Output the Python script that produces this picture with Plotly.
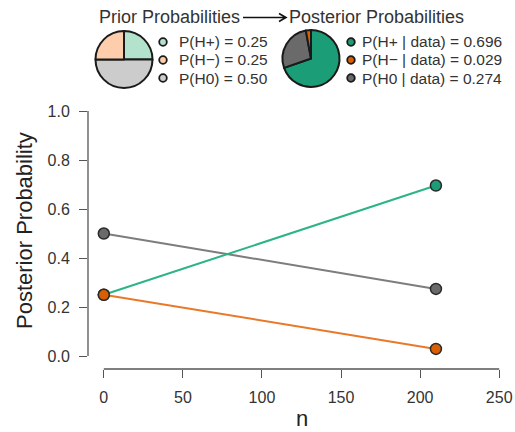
import plotly.graph_objects as go

# Sample sizes and probabilities
n_values = [0, 210]
hypotheses = ["H+", "H\u2212", "H0"]
prior = [0.25, 0.25, 0.50]
posterior = [0.696, 0.029, 0.274]

dark_cols = {"H+": "#1b9e77", "H\u2212": "#d95f02", "H0": "#6a6a6a"}
light_cols = {"H+": "#b3e2cd", "H\u2212": "#fdcdac", "H0": "#cccccc"}
line_cols = {"H+": "#2bb486", "H\u2212": "#e8792a", "H0": "#7d7d7d"}

W, H = 515, 432
FONT = "Liberation Sans, Arial, sans-serif"
TXT = "#333333"


def px(x):
    return x / W


def py(y):
    return (H - y) / H


fig = go.Figure()

# Probability trajectories: prior at n=0, posterior at final n
for h in ["H0", "H+", "H\u2212"]:
    i = hypotheses.index(h)
    fig.add_trace(go.Scatter(
        x=n_values, y=[prior[i], posterior[i]], mode="lines",
        line=dict(color=line_cols[h], width=2), showlegend=False, hoverinfo="skip"))
for h in ["H0", "H+", "H\u2212"]:
    i = hypotheses.index(h)
    fig.add_trace(go.Scatter(
        x=n_values, y=[prior[i], posterior[i]], mode="markers",
        marker=dict(color=dark_cols[h], size=11, line=dict(color="#2a2a2a", width=1.5)),
        showlegend=False))

# Pies: clockwise from 12 o'clock in order H+, H0, H-
pie_order = ["H+", "H0", "H\u2212"]


def add_pie(values, colors, cx, cy, r):
    fig.add_trace(go.Pie(
        values=[values[hypotheses.index(h)] for h in pie_order],
        labels=pie_order,
        marker=dict(colors=[colors[h] for h in pie_order], line=dict(color="#1a1a1a", width=2)),
        sort=False, direction="clockwise", rotation=0, textinfo="none",
        hoverinfo="label+value", showlegend=False,
        domain=dict(x=[px(cx - r), px(cx + r)], y=[py(cy + r), py(cy - r)])))


add_pie(prior, light_cols, 124, 59.5, 28.5)
add_pie(posterior, dark_cols, 311, 58.5, 28.5)

annotations = []
shapes = []


def text(x, y, s, size, anchor="left"):
    annotations.append(dict(
        x=px(x), y=py(y), xref="paper", yref="paper", text=s, showarrow=False,
        xanchor=anchor, yanchor="middle", font=dict(family=FONT, size=size, color=TXT)))


text(97, 17, "Prior Probabilities", 18)
text(287, 17, "Posterior Probabilities", 18)

# arrow between the two headings
ax0, ax1, ay = 243, 286, 17.5
shapes.append(dict(type="path", xref="paper", yref="paper",
                   path=f"M {px(ax0)},{py(ay)} L {px(ax1)},{py(ay)} "
                        f"M {px(ax1 - 7)},{py(ay - 4)} L {px(ax1)},{py(ay)} L {px(ax1 - 7)},{py(ay + 4)}",
                   line=dict(color="#111111", width=1.6)))

rows = [42, 60, 78]
prior_lbl = [f"P({h}) = {v:.2f}" for h, v in zip(hypotheses, prior)]
post_lbl = [f"P({h} | data) = {v:.3f}" for h, v in zip(hypotheses, posterior)]
for k, h in enumerate(hypotheses):
    for dotx, cols, lbl, tx in [(163, light_cols, prior_lbl[k], 177),
                                (351, dark_cols, post_lbl[k], 360)]:
        shapes.append(dict(type="circle", xref="paper", yref="paper",
                           xsizemode="pixel", ysizemode="pixel",
                           xanchor=px(dotx), yanchor=py(rows[k]),
                           x0=-3.8, x1=3.8, y0=-3.8, y1=3.8,
                           fillcolor=cols[h], line=dict(color="#1a1a1a", width=1.8)))
        text(tx, rows[k], lbl, 15.5)

# axis lines spanning only the tick range
shapes.append(dict(type="line", xref="paper", yref="y", x0=px(88), x1=px(88), y0=0, y1=1,
                   line=dict(color="#555555", width=1.3)))
shapes.append(dict(type="line", xref="x", yref="paper", x0=0, x1=250, y0=py(369), y1=py(369),
                   line=dict(color="#555555", width=1.3)))

# axis titles
annotations.append(dict(x=px(24), y=py(231), xref="paper", yref="paper", text="Posterior Probability",
                        showarrow=False, textangle=-90, xanchor="center", yanchor="middle",
                        font=dict(family=FONT, size=22, color="#222222")))
annotations.append(dict(x=px(302), y=py(418), xref="paper", yref="paper", text="n",
                        showarrow=False, xanchor="center", yanchor="middle",
                        font=dict(family=FONT, size=22, color="#222222")))

fig.update_layout(
    width=W, height=H, margin=dict(l=0, r=0, t=0, b=0),
    paper_bgcolor="white", plot_bgcolor="white",
    shapes=shapes, annotations=annotations,
    xaxis=dict(domain=[88 / W, 1], range=[-10, 260], tickvals=[0, 50, 100, 150, 200, 250],
               showgrid=False, zeroline=False, showline=False, ticks="outside", ticklen=8,
               tickcolor="#555555", tickwidth=1.3, ticklabelstandoff=6,
               tickfont=dict(family=FONT, size=16, color=TXT)),
    yaxis=dict(domain=[(H - 369) / H, (H - 101) / H], range=[-0.053, 1.041],
               tickvals=[0, 0.2, 0.4, 0.6, 0.8, 1.0], ticktext=["0.0", "0.2", "0.4", "0.6", "0.8", "1.0"],
               showgrid=False, zeroline=False, showline=False, ticks="outside", ticklen=8,
               tickcolor="#555555", tickwidth=1.3, ticklabelstandoff=6,
               tickfont=dict(family=FONT, size=16, color=TXT)),
)

fig.write_html("out.html")
